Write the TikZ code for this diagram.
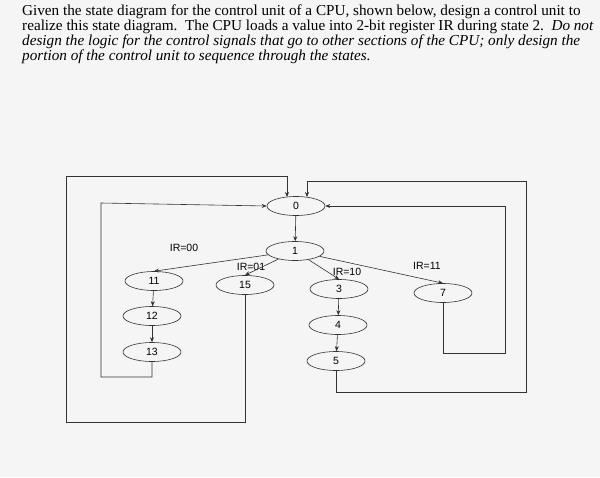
\documentclass[tikz,border=0pt]{standalone}
\usepackage{fontspec}
\setmainfont{Liberation Serif}
\newfontfamily\diag{Liberation Sans}
\usetikzlibrary{shapes.geometric,arrows.meta}
\begin{document}
\begin{tikzpicture}[x=1pt,y=-1pt,
  st/.style={ellipse,draw=black!80,line width=0.6pt,minimum width=58pt,minimum height=19pt,inner sep=0pt,font=\diag\fontsize{10.5}{10.5}\selectfont},
  lbl/.style={font=\diag\fontsize{10.5}{10.5}\selectfont},
  cn/.style={draw=black!80,line width=0.6pt,-{Stealth[length=5pt,width=4pt]}},
  tl/.style={anchor=west,inner sep=0pt,font=\fontsize{15.2}{15}\selectfont}]
\fill[black!4] (0,0) rectangle (600,477);
\useasboundingbox (0,0) rectangle (600,477);
\node[tl] (t1) at (22,12) {Given the state diagram for the control unit of a CPU, shown below, design a control unit to};
\node[tl] (t2) at (22,27) {realize this state diagram.\ \ The CPU loads a value into 2-bit register IR during state 2.\ \ \textit{Do not}};
\node[tl] (t3) at (22,42) {\textit{design the logic for the control signals that go to other sections of the CPU; only design the}};
\node[tl] (t4) at (22,57) {\textit{portion of the control unit to sequence through the states.}};
\node[st] (s0) at (296,206) {0};
\node[st] (s1) at (295,251) {1};
\node[st] (s11) at (154,281) {11};
\node[st] (s12) at (152,316) {12};
\node[st] (s13) at (152,352) {13};
\node[st] (s15) at (245,285) {15};
\node[st] (s3) at (339,289) {3};
\node[st] (s4) at (338,325) {4};
\node[st] (s5) at (336,361) {5};
\node[st] (s7) at (443,293) {7};
\node[lbl] (l00) at (184,248) {IR=00};
\node[lbl] (l01) at (251,267) {IR=01};
\node[lbl] (l10) at (347,272) {IR=10};
\node[lbl] (l11) at (427,266) {IR=11};
\draw[cn] (s0) -- (s1);
\draw[cn] (s1) -- (s11.north);
\draw[cn] (s1) -- (s15.north);
\draw[cn] (s1) -- (s3.north);
\draw[cn] (s1) -- (s7.north);
\draw[cn] (s11) -- (s12);
\draw[cn] (s12) -- (s13);
\draw[cn] (s3) -- (s4);
\draw[cn] (s4) -- (s5);
\draw[cn] (s13.south) -- (152,377) -- (101,377) -- (101,203) -- (s0.west);
\draw[cn] (s15.south) -- (245,422) -- (66,422) -- (66,176) -- (287,176) -- (287,197);
\draw[cn] (s7.south) -- (443,353) -- (505,353) -- (505,206) -- (s0.east);
\draw[cn] (s5.south) -- (336,392) -- (526,392) -- (526,181) -- (307,181) -- (307,197);
\end{tikzpicture}
\end{document}
